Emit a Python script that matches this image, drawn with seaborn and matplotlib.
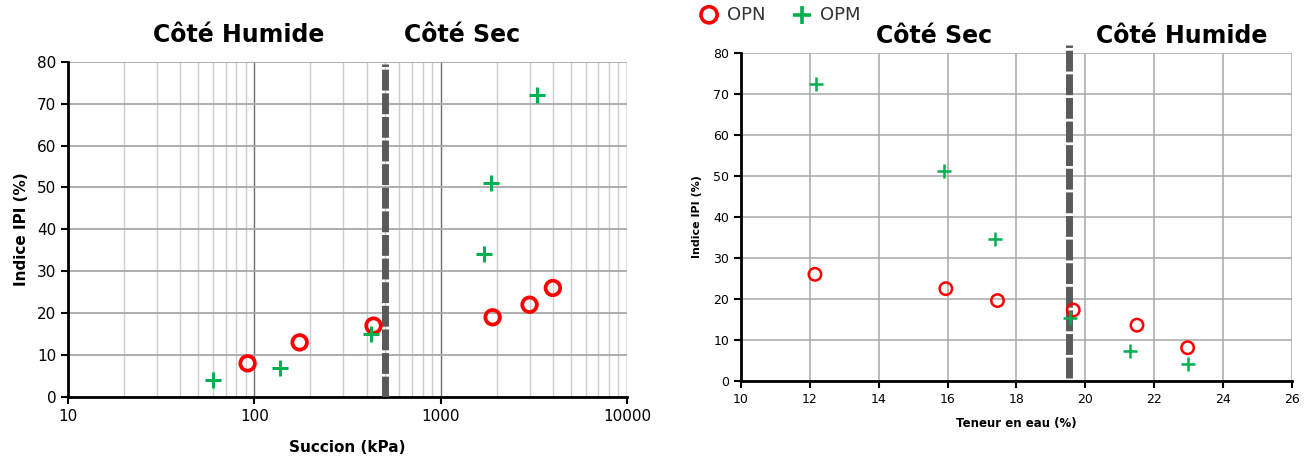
import numpy as np
import pandas as pd
import matplotlib
matplotlib.use('Agg')
import matplotlib.pyplot as plt
import seaborn as sns

sns.set_style('white')
plt.rcParams['font.family'] = ['DejaVu Sans']
plt.rcParams['text.color'] = 'black'
plt.rcParams['axes.labelcolor'] = 'black'

# --- données : succion (kPa) ---
succion_opn = [92, 175, 436, 1900, 3000, 4000]
ipi_opn_s = [8.0, 13.0, 17.0, 19.0, 22.0, 26.0]
succion_opm = [60, 137, 423, 1700, 1870, 3300]
ipi_opm_s = [4.0, 6.8, 15.0, 34.0, 51.0, 72.0]

# --- données : teneur en eau (%) ---
teneur_opn = [12.15, 15.95, 17.45, 19.65, 21.5, 22.97]
ipi_opn_w = [26.0, 22.5, 19.6, 17.3, 13.6, 8.1]
teneur_opm = [12.17, 15.9, 17.37, 19.55, 21.3, 22.97]
ipi_opm_w = [72.3, 51.3, 34.5, 15.3, 7.4, 4.2]

succion_limite = 500
teneur_limite = 19.53

rouge = '#FF0000'
vert = '#00B050'
gris_trait = '#5A5A5A'

fig = plt.figure(figsize=(13.09, 4.68), dpi=100)
ax1 = fig.add_axes([0.052, 0.152, 0.427, 0.716])
ax2 = fig.add_axes([0.566, 0.186, 0.421, 0.701])

# --- graphique gauche : succion ---
sns.scatterplot(x=succion_opn, y=ipi_opn_s, marker='o', s=110, facecolors='none',
                edgecolor=rouge, linewidth=2.7, ax=ax1, zorder=4)
sns.scatterplot(x=succion_opm, y=ipi_opm_s, marker='+', s=120, color=vert,
                linewidth=2.2, ax=ax1, zorder=5)
ax1.set_xscale('log')
ax1.set_xlim(10, 10000)
ax1.set_ylim(0, 80)
ax1.set_yticks(range(0, 81, 10))
ax1.set_xticks([10, 100, 1000, 10000])
ax1.set_xticklabels(['10', '100', '1000', '10000'])
ax1.grid(which='major', axis='x', color='#707070', linewidth=1.0)
ax1.grid(which='minor', axis='x', color='#CDCDCD', linewidth=1.0)
ax1.grid(which='major', axis='y', color='#A8A8A8', linewidth=1.3)
ax1.tick_params(axis='x', which='minor', length=0)
ax1.tick_params(axis='both', which='major', length=5, width=1.5, direction='out',
                labelsize=11, colors='black', left=True, bottom=True)
ax1.axvline(succion_limite, ymin=0, ymax=0.993, color=gris_trait, linewidth=5,
            linestyle=(0, (3, 0.4)), zorder=3)
ax1.set_xlabel('Succion (kPa)', fontsize=11, fontweight='bold', labelpad=12)
ax1.set_ylabel('Indice IPI (%)', fontsize=11, fontweight='bold', labelpad=6)
ax1.text(0.305, 1.08, 'Côté Humide', transform=ax1.transAxes, ha='center', va='center',
         fontsize=17, fontweight='bold')
ax1.text(0.705, 1.08, 'Côté Sec', transform=ax1.transAxes, ha='center', va='center',
         fontsize=17, fontweight='bold')

# --- graphique droit : teneur en eau ---
sns.scatterplot(x=teneur_opn, y=ipi_opn_w, marker='o', s=80, facecolors='none',
                edgecolor=rouge, linewidth=1.8, ax=ax2, zorder=4, label='OPN')
sns.scatterplot(x=teneur_opm, y=ipi_opm_w, marker='+', s=110, color=vert,
                linewidth=1.8, ax=ax2, zorder=5, label='OPM')
ax2.set_xlim(10, 26)
ax2.set_ylim(0, 80)
ax2.set_xticks(range(10, 27, 2))
ax2.set_yticks(range(0, 81, 10))
ax2.grid(True, color='#A8A8A8', linewidth=1.1)
ax2.tick_params(axis='both', which='major', length=5, width=1.5, direction='out',
                labelsize=9, colors='black', left=True, bottom=True)
ax2.axvline(teneur_limite, ymin=0.01, ymax=1.025, color=gris_trait, linewidth=5,
            linestyle=(0, (3, 0.4)), zorder=3, clip_on=False)
ax2.set_xlabel('Teneur en eau (%)', fontsize=8.5, fontweight='bold', labelpad=8)
ax2.set_ylabel('Indice IPI (%)', fontsize=8, fontweight='bold', labelpad=8)
ax2.text(0.35, 1.05, 'Côté Sec', transform=ax2.transAxes, ha='center', va='center',
         fontsize=17, fontweight='bold')
ax2.text(0.80, 1.05, 'Côté Humide', transform=ax2.transAxes, ha='center', va='center',
         fontsize=17, fontweight='bold')
leg = ax2.legend(loc='lower left', bbox_to_anchor=(-0.12, 1.04), ncol=2, frameon=False,
                 fontsize=13, handletextpad=0.0, columnspacing=1.0, markerscale=1.3)
for h in leg.legend_handles:
    h.set_linewidth(2.6)
for t in leg.get_texts():
    t.set_color('#333333')

for ax in (ax1, ax2):
    for side in ('top', 'right'):
        ax.spines[side].set_visible(False)
    for side in ('left', 'bottom'):
        ax.spines[side].set_color('black')
        ax.spines[side].set_linewidth(2)

fig.savefig('out.png', dpi=100, facecolor='white')
